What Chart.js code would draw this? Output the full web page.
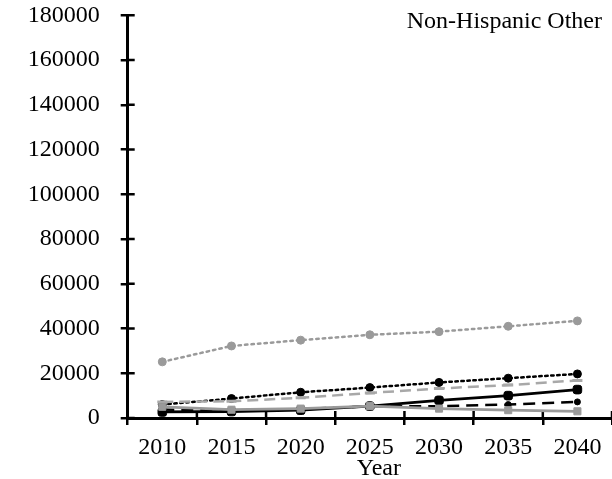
<!DOCTYPE html>
<html>
<head>
<meta charset="utf-8">
<script src="https://cdn.jsdelivr.net/npm/chart.js@4/dist/chart.umd.min.js"></script>
<style>
  html, body { margin: 0; padding: 0; background: #fff; overflow: hidden; }
  #wrap { width: 612px; height: 479px; overflow: hidden; }
  canvas { display: block; }
</style>
</head>
<body>
<div id="wrap"><canvas id="c" width="620" height="479"></canvas></div>
<script>
// Projected population, Non-Hispanic Other
const years = ['2010', '2015', '2020', '2025', '2030', '2035', '2040'];
const yTicks = [0, 20000, 40000, 60000, 80000, 100000, 120000, 140000, 160000, 180000];
const panelTitle = 'Non-Hispanic Other';
const axisTitle = 'Year';

const grayDotted  = [25100, 32200, 34800, 37200, 38600, 41000, 43400];
const blackDotted = [6000, 8700, 11500, 13600, 15900, 17800, 19700];
const grayDashed  = [7200, 7500, 9000, 11200, 13200, 14700, 16800];
const graySolid   = [5000, 3700, 4200, 5300, 4200, 3500, 3000];
const blackDashed = [3800, 3400, 4000, 5300, 5300, 6000, 7200];
const blackSolid  = [2700, 2900, 3500, 5300, 7900, 10000, 12700];

const FONT = 'Liberation Serif';
Chart.defaults.font.family = FONT;
Chart.defaults.color = '#000';

// Tick marks that cross the axis lines (inner half; the outer half is the scale's own tick)
const crossTicks = {
  id: 'crossTicks',
  beforeDatasetsDraw(chart) {
    const { ctx, chartArea, scales } = chart;
    const x = scales.x, y = scales.y;
    ctx.save();
    ctx.strokeStyle = '#000';
    ctx.lineWidth = 2.5;
    ctx.beginPath();
    y.ticks.forEach((t, i) => {
      const py = y.getPixelForTick(i);
      ctx.moveTo(chartArea.left, py);
      ctx.lineTo(chartArea.left + 7, py);
    });
    for (let i = 1; i <= years.length; i++) {
      const px = x.getPixelForValue(i - 0.5);
      ctx.moveTo(px, chartArea.bottom);
      ctx.lineTo(px, chartArea.bottom - 7);
    }
    ctx.stroke();
    ctx.restore();
  },
  afterDraw(chart) {
    const { ctx, scales } = chart;
    const x = scales.x;
    ctx.save();
    ctx.fillStyle = '#000';
    ctx.font = '24px "' + FONT + '"';
    ctx.textBaseline = 'alphabetic';
    ctx.textAlign = 'right';
    ctx.fillText(panelTitle, 602, 28);
    ctx.textAlign = 'center';
    ctx.fillText(axisTitle, (x.left + x.right) / 2 + 9, x.bottom - 4);
    ctx.restore();
  }
};

function series(data, color, width, dash, style, radius) {
  return {
    data,
    borderColor: color,
    backgroundColor: color,
    borderWidth: width,
    borderDash: dash,
    borderCapStyle: dash.length && dash[0] < 4 ? 'round' : 'butt',
    pointStyle: style,
    pointRadius: radius,
    pointBorderWidth: style === 'line' ? 3 : 1,
    pointBackgroundColor: color,
    pointBorderColor: color,
    tension: 0,
    fill: false
  };
}

new Chart(document.getElementById('c'), {
  type: 'line',
  data: {
    labels: years,
    datasets: [
      series(graySolid,   '#9a9a9a', 2.8, [],       'rect',        5),
      series(grayDashed,  '#a8a8a8', 2.5, [11, 6],  'line',        5),
      series(grayDotted,  '#9a9a9a', 2.5, [2.5, 4], 'circle',      4),
      series(blackDashed, '#000000', 2.5, [12, 7],  'circle',      3),
      series(blackSolid,  '#000000', 2.8, [],       'rectRounded', 5),
      series(blackDotted, '#000000', 2.5, [2.5, 3.5], 'circle',    4)
    ]
  },
  options: {
    responsive: false,
    animation: false,
    layout: { padding: { top: 15.3, left: 0, right: 0, bottom: 0 } },
    plugins: { legend: { display: false }, tooltip: { enabled: false }, title: { display: false } },
    scales: {
      x: {
        type: 'category',
        offset: true,
        grid: { display: true, drawOnChartArea: false, offset: true, tickLength: 7, color: '#000', lineWidth: 2.5 },
        border: { display: true, color: '#000', width: 3 },
        ticks: { font: { size: 24, family: FONT }, color: '#000', padding: 8, maxRotation: 0 },
        afterFit(s) { s.height = 61; s.paddingLeft = 0; s.paddingRight = 0; }
      },
      y: {
        min: 0,
        max: 180000,
        afterBuildTicks(s) { s.ticks = yTicks.map(v => ({ value: v })); },
        grid: { display: true, drawOnChartArea: false, tickLength: 7, color: '#000', lineWidth: 2.5 },
        border: { display: true, color: '#000', width: 3 },
        ticks: { font: { size: 24, family: FONT }, color: '#000', padding: 21, callback: v => String(v) },
        afterFit(s) { s.width = 127.7; s.paddingTop = 0; s.paddingBottom = 0; }
      }
    }
  },
  plugins: [crossTicks]
});
</script>
</body>
</html>
